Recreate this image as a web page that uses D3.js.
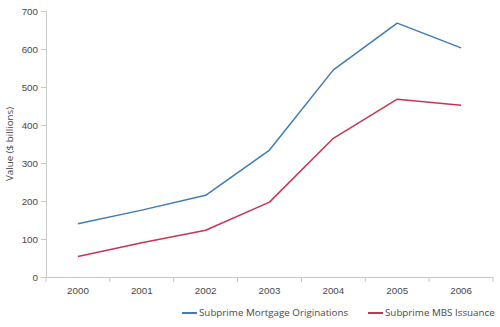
<!DOCTYPE html>
<html>
<head>
<meta charset="utf-8">
<script src="https://cdn.jsdelivr.net/npm/d3@7"></script>
<style>
  html, body { margin: 0; padding: 0; background: #fff; }
  svg { display: block; font-family: "Open Sans", "Noto Sans", sans-serif; }
</style>
</head>
<body>
<svg id="chart" width="500" height="327"></svg>
<script>
// Subprime lending, 2000–2006 ($ billions)
const years = ["2000", "2001", "2002", "2003", "2004", "2005", "2006"];
const originations = [140, 176, 215, 334, 545, 668, 603];
const mbsIssuance = [54, 90, 123, 197, 365, 468, 452];
const yTicks = [0, 100, 200, 300, 400, 500, 600, 700];
const seriesNames = ["Subprime Mortgage Originations", "Subprime MBS Issuance"];
const seriesColors = ["#3f7cb5", "#c9354f"];

const svg = d3.select("#chart");
const margin = { top: 11, right: 7, bottom: 50, left: 46 };
const width = 500 - margin.left - margin.right;
const height = 327 - margin.top - margin.bottom;

const x = d3.scaleBand().domain(years).range([0, width]).paddingInner(0).paddingOuter(0);
const y = d3.scaleLinear().domain([0, 700]).range([height, 0]);

const g = svg.append("g").attr("transform", `translate(${margin.left},${margin.top})`);

const axisColor = "#c8c8c8";
const textColor = "#484848";

// Y axis
const yAxis = g.append("g")
  .call(d3.axisLeft(y).tickValues(yTicks).tickSize(5).tickPadding(3));
yAxis.select(".domain").attr("stroke", axisColor);
yAxis.selectAll(".tick line").attr("stroke", axisColor);
yAxis.selectAll("text").attr("fill", textColor).attr("font-size", 9.8);

// X axis with ticks at band edges
const xAxis = g.append("g").attr("transform", `translate(0,${height})`)
  .call(d3.axisBottom(x).tickSize(0).tickPadding(10));
xAxis.select(".domain").attr("stroke", axisColor);
xAxis.selectAll("text").attr("fill", textColor).attr("font-size", 9.8);
const edges = years.map(d => x(d)).concat([width]);
xAxis.selectAll("line.edge").data(edges).enter().append("line")
  .attr("class", "edge")
  .attr("x1", d => d).attr("x2", d => d)
  .attr("y1", 0).attr("y2", 5)
  .attr("stroke", axisColor);

// Y axis title
svg.append("text")
  .attr("transform", `translate(13,${margin.top + height / 2}) rotate(-90)`)
  .attr("text-anchor", "middle")
  .attr("fill", textColor)
  .attr("font-size", 9.8)
  .text("Value ($ billions)");

// Lines
const line = d3.line()
  .x((d, i) => x(years[i]) + x.bandwidth() / 2)
  .y(d => y(d));

[originations, mbsIssuance].forEach((vals, i) => {
  g.append("path")
    .datum(vals)
    .attr("fill", "none")
    .attr("stroke", seriesColors[i])
    .attr("stroke-width", 1.5)
    .attr("stroke-linejoin", "round")
    .attr("d", line);
});

// Legend
const legendY = 313;
const legendItems = [{ x: 182 }, { x: 368 }];
legendItems.forEach((item, i) => {
  const lg = svg.append("g").attr("transform", `translate(${item.x},${legendY})`);
  lg.append("line").attr("x1", 0).attr("x2", 15).attr("y1", 0).attr("y2", 0)
    .attr("stroke", seriesColors[i]).attr("stroke-width", 2);
  lg.append("text").attr("x", 17).attr("y", 0).attr("dy", "0.35em")
    .attr("fill", textColor).attr("font-size", 9.8)
    .text(seriesNames[i]);
});
</script>
</body>
</html>
